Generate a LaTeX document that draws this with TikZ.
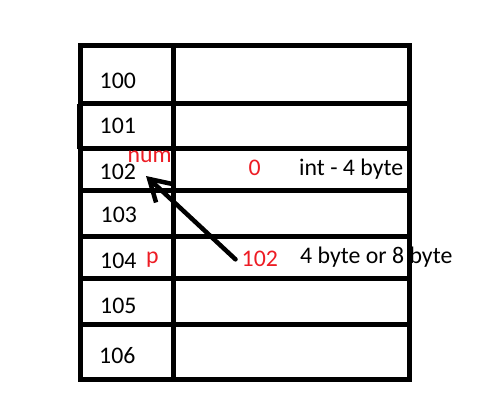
\documentclass[tikz,border=0pt]{standalone}
\usepackage{fontspec}
\setmainfont{Carlito}
\usetikzlibrary{arrows.meta}
\definecolor{memred}{RGB}{237,28,36}
\begin{document}
\begin{tikzpicture}[x=1pt,y=-1pt,
  grid/.style={line width=5pt,line join=miter},
  lbl/.style={anchor=base west,inner sep=0pt,font=\fontsize{23.8}{28}\selectfont},
  val/.style={lbl,text=memred},
  ptr/.style={line width=4.5pt,line cap=round,-{Straight Barb[length=21pt,width=25pt,line width=4.5pt]}}]
\useasboundingbox (0,0) rectangle (500,402);
% table
\draw[grid] (80.5,45.5) rectangle (409.5,379.5);
\draw[grid] (173.5,45.5) -- (173.5,381);
\foreach \y in {103.5,148.5,190.5,236.5,278.5,324.5}
  \draw[grid] (80.5,\y) -- (409.5,\y);
\draw[grid] (79.5,103.5) -- (79.5,148.5);
% addresses
\node[lbl] (a100) at (99.5,88) {100};
\node[lbl] (a101) at (99.5,133) {101};
\node[lbl] (a102) at (99.5,179) {102};
\node[lbl] (a103) at (100.5,222) {103};
\node[lbl] (a104) at (100,268) {104};
\node[lbl] (a105) at (100,313) {105};
\node[lbl] (a106) at (99,363) {106};
% names and values
\node[val] (num) at (127.5,162) {num};
\node[val] (pname) at (146,263) {p};
\node[val] (v0) at (248.5,175) {0};
\node[val] (p102) at (241.5,266) {102};
\node[lbl] (t1) at (299,175) {int - 4 byte};
\node[lbl] (t2) at (300,263) {4 byte or 8 byte};
% pointer arrow
\coordinate (tip) at (146,176);
\draw[ptr] ([xshift=-6pt,yshift=-1pt]p102.west) -- (tip);
\end{tikzpicture}
\end{document}
